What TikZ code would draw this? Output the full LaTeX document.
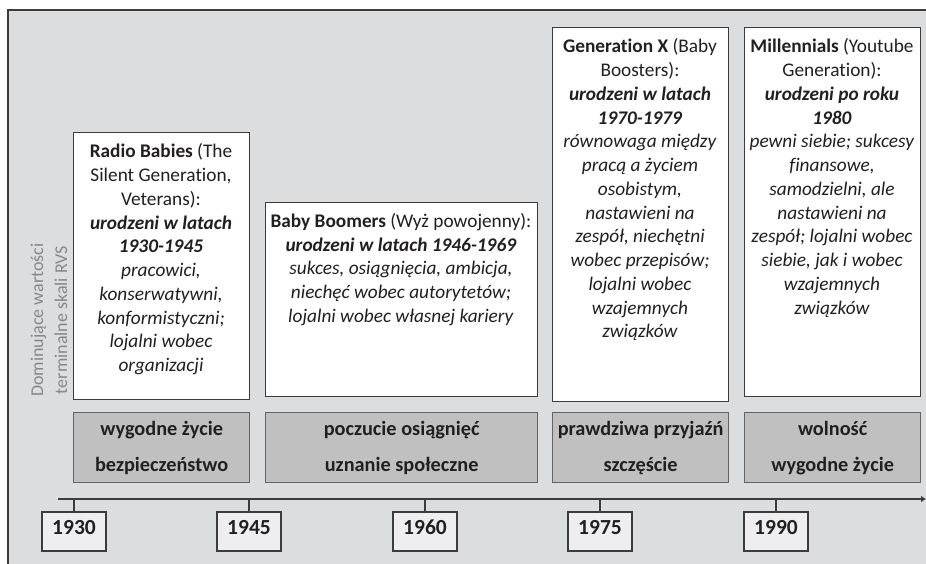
\documentclass[tikz,border=0pt]{standalone}
\usepackage{fontspec}
\setmainfont{Carlito}[Ligatures={NoCommon}]
\usetikzlibrary{arrows.meta}
\definecolor{bggray}{RGB}{220,221,223}
\definecolor{valgray}{RGB}{192,192,193}
\definecolor{yeargray}{RGB}{238,238,240}
\definecolor{linegray}{RGB}{60,60,60}
\definecolor{labelgray}{RGB}{135,135,137}
\definecolor{txt}{RGB}{35,31,32}
\begin{document}
\begin{tikzpicture}[x=1pt,y=-1pt,
  genbox/.style={draw=linegray, line width=1.3pt, fill=white, rectangle, inner sep=0pt, anchor=north west},
  valbox/.style={draw=linegray!80, line width=1.3pt, fill=valgray, rectangle, inner sep=0pt, anchor=north west},
  gentext/.style={align=center, inner sep=0pt, anchor=north, text=txt, font=\fontsize{19.3}{23.75}\selectfont},
  valtext/.style={align=center, inner sep=0pt, text=txt, font=\bfseries\fontsize{20.3}{36}\selectfont},
  yearbox/.style={draw=linegray, line width=1.3pt, fill=yeargray, minimum width=64pt, minimum height=39pt, inner sep=0pt, text height=14pt, text depth=8pt, text=txt, font=\bfseries\fontsize{21.5}{24}\selectfont},
  tick/.style={draw=linegray, line width=1.3pt}
]
\useasboundingbox (0,0) rectangle (926,563);
\clip (0,0) rectangle (926,563);
\path[fill=bggray, draw=linegray, line width=1.3pt] (8,10) rectangle (945,585);

% vertical label
\node[rotate=90, align=center, inner sep=0pt, text=labelgray, font=\fontsize{18}{24}\selectfont] (lbl) at (49,320) {Dominujące wartości\\terminalne skali RVS};

% generation boxes
\node[genbox, minimum width=176pt, minimum height=267pt] (g1) at (73,132) {};
\node[genbox, minimum width=272pt, minimum height=194pt] (g2) at (265,202) {};
\node[genbox, minimum width=176pt, minimum height=374pt] (g3) at (552,27) {};
\node[genbox, minimum width=176pt, minimum height=369pt] (g4) at (744,27) {};

\node[gentext] (t1) at (161,143.5) {\textbf{Radio Babies} (The\\Silent Generation,\\Veterans):\\\textbf{\textit{urodzeni w latach}}\\\textbf{\textit{1930-1945}}\\\textit{pracowici,}\\\textit{konserwatywni,}\\\textit{konformistyczni;}\\\textit{lojalni wobec}\\\textit{organizacji}};
\node[gentext] (t2) at (401,213) {\textbf{Baby Boomers} (Wyż powojenny):\\\textbf{\textit{urodzeni w latach 1946-1969}}\\\textit{sukces, osiągnięcia, ambicja,}\\\textit{niechęć wobec autorytetów;}\\\textit{lojalni wobec własnej kariery}};
\node[gentext] (t3) at (640,38.5) {\textbf{Generation X} (Baby\\Boosters):\\\textbf{\textit{urodzeni w latach}}\\\textbf{\textit{1970-1979}}\\\textit{równowaga między}\\\textit{pracą a życiem}\\\textit{osobistym,}\\\textit{nastawieni na}\\\textit{zespół, niechętni}\\\textit{wobec przepisów;}\\\textit{lojalni wobec}\\\textit{wzajemnych}\\\textit{związków}};
\node[gentext] (t4) at (832,38.5) {\textbf{Millennials} (Youtube\\Generation):\\\textbf{\textit{urodzeni po roku}}\\\textbf{\textit{1980}}\\\textit{pewni siebie; sukcesy}\\\textit{finansowe,}\\\textit{samodzielni, ale}\\\textit{nastawieni na}\\\textit{zespół; lojalni wobec}\\\textit{siebie, jak i wobec}\\\textit{wzajemnych}\\\textit{związków}};

% value boxes
\node[valbox, minimum width=176pt, minimum height=70pt] (v1) at (73,412) {};
\node[valbox, minimum width=272pt, minimum height=70pt] (v2) at (265,412) {};
\node[valbox, minimum width=176pt, minimum height=70pt] (v3) at (552,412) {};
\node[valbox, minimum width=176pt, minimum height=70pt] (v4) at (744,412) {};
\node[valtext] (vt1) at (v1.center) {wygodne życie\\bezpieczeństwo};
\node[valtext] (vt2) at (v2.center) {poczucie osiągnięć\\uznanie społeczne};
\node[valtext] (vt3) at (v3.center) {prawdziwa przyjaźń\\szczęście};
\node[valtext] (vt4) at (v4.center) {wolność\\wygodne życie};

% timeline
\coordinate (tl0) at (58,499);
\coordinate (tl1) at (926,499);
\draw[draw=linegray, line width=1.4pt, -{Latex[length=5pt,width=7pt]}] (tl0) -- (tl1);
\coordinate (k1) at (74,499);
\coordinate (k2) at (249,499);
\coordinate (k3) at (425,499);
\coordinate (k4) at (600,499);
\coordinate (k5) at (776,499);
\node[yearbox] (y1) at (74,531.5) {1930};
\node[yearbox] (y2) at (249,531.5) {1945};
\node[yearbox] (y3) at (425,531.5) {1960};
\node[yearbox] (y4) at (600,531.5) {1975};
\node[yearbox] (y5) at (776,531.5) {1990};
\draw[tick] (k1) -- (y1.north);
\draw[tick] (k2) -- (y2.north);
\draw[tick] (k3) -- (y3.north);
\draw[tick] (k4) -- (y4.north);
\draw[tick] (k5) -- (y5.north);
\end{tikzpicture}
\end{document}
